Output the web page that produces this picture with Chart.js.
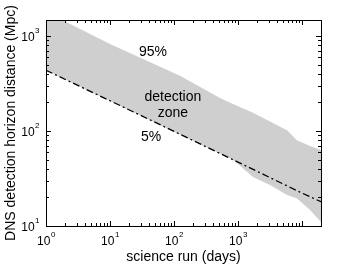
<!DOCTYPE html>
<html>
<head>
<meta charset="utf-8">
<script src="https://cdn.jsdelivr.net/npm/chart.js@4"></script>
<style>
html, body { margin: 0; padding: 0; background: #fff; }
#wrap { width: 355px; height: 267px; }
</style>
</head>
<body>
<div id="wrap"><canvas id="chartCanvas" width="355" height="267"></canvas></div>
<script>
// science run length (days) and the 5%..95% band of horizon distance (Mpc)
const bandDays = [1, 2, 10, 124, 523, 835, 1715, 3160, 5830, 8350, 13335, 19800];
const band95 = [1790, 1416, 824, 380, 222, 192, 155, 126, 102, 80, 69.5, 63];
const band5 = [435, 348, 207, 92, 58, 49.8, 32.8, 27, 21.2, 19.5, 14.7, 11];

// 5% reference line
const lineDays = [1, 10, 100, 1000, 10000, 19800];
const line5 = [435, 208, 99, 47, 22.2, 18];

const xTicks = [1, 10, 100, 1000];
const yTicks = [10, 100, 1000];

const labelTexts = [
  { text: '95%', x: 47, y: 676 },
  { text: 'detection', x: 96, y: 225 },
  { text: 'zone', x: 96, y: 155 },
  { text: '5%', x: 44, y: 86.5 }
];

const fontFam = '"Liberation Sans", Arial, Helvetica, sans-serif';

const toPts = (xs, ys) => xs.map((x, i) => ({ x: x, y: ys[i] }));

// inward tick marks on all four sides, frame, labels
const tickPlugin = {
  id: 'logTicks',
  afterDraw(chart) {
    const ctx = chart.ctx;
    const a = chart.chartArea;
    const sx = chart.scales.x, sy = chart.scales.y;
    ctx.save();
    ctx.strokeStyle = '#000';
    ctx.lineWidth = 1;
    const drawSide = (scale, horiz) => {
      for (let k = Math.floor(Math.log10(scale.min)); k <= Math.ceil(Math.log10(scale.max)); k++) {
        for (let m = 1; m <= 9; m++) {
          const v = m * Math.pow(10, k);
          if (v < scale.min || v > scale.max) continue;
          const p = Math.round(scale.getPixelForValue(v)) + 0.5;
          const len = m === 1 ? 5 : 3;
          ctx.beginPath();
          if (horiz) {
            ctx.moveTo(p, a.bottom); ctx.lineTo(p, a.bottom - len);
            ctx.moveTo(p, a.top); ctx.lineTo(p, a.top + len);
          } else {
            ctx.moveTo(a.left, p); ctx.lineTo(a.left + len, p);
            ctx.moveTo(a.right, p); ctx.lineTo(a.right - len, p);
          }
          ctx.stroke();
        }
      }
    };
    drawSide(sx, true);
    drawSide(sy, false);
    ctx.strokeRect(Math.round(a.left) + 0.5, Math.round(a.top) + 0.5,
      Math.round(a.right - a.left), Math.round(a.bottom - a.top));

    // text in the plot
    ctx.fillStyle = '#000';
    ctx.font = '14px ' + fontFam;
    ctx.textAlign = 'center';
    ctx.textBaseline = 'middle';
    labelTexts.forEach(l => {
      ctx.fillText(l.text, sx.getPixelForValue(l.x), sy.getPixelForValue(l.y));
    });

    // tick labels 10^n
    const drawPow = (cx, cy, exp, align) => {
      ctx.font = '12px ' + fontFam;
      const w10 = ctx.measureText('10').width;
      ctx.font = '8px ' + fontFam;
      const we = ctx.measureText(String(exp)).width;
      let left = align === 'center' ? cx - (w10 + we) / 2 : cx - (w10 + we);
      ctx.textAlign = 'left';
      ctx.textBaseline = 'middle';
      ctx.font = '12px ' + fontFam;
      ctx.fillText('10', left, cy);
      ctx.font = '8px ' + fontFam;
      ctx.fillText(String(exp), left + w10 + 0.5, cy - 7);
    };
    xTicks.forEach(v => drawPow(sx.getPixelForValue(v), a.bottom + 16, Math.round(Math.log10(v)), 'center'));
    yTicks.forEach(v => drawPow(a.left - 7, sy.getPixelForValue(v) + 2, Math.round(Math.log10(v)), 'right'));
    ctx.restore();
  }
};

const ctx = document.getElementById('chartCanvas').getContext('2d');
const chart = new Chart(ctx, {
  type: 'line',
  data: {
    datasets: [
      {
        label: '95%',
        data: toPts(bandDays, band95),
        borderWidth: 0,
        pointRadius: 0,
        backgroundColor: '#cfcfcf',
        fill: '+1',
        order: 2
      },
      {
        label: '5% band',
        data: toPts(bandDays, band5),
        borderWidth: 0,
        pointRadius: 0,
        fill: false,
        order: 2
      },
      {
        label: '5%',
        data: toPts(lineDays, line5),
        borderColor: '#000',
        borderWidth: 1.3,
        borderDash: [7, 3, 2, 3],
        pointRadius: 0,
        fill: false,
        order: 0
      }
    ]
  },
  options: {
    responsive: false,
    animation: false,
    layout: { padding: { top: 20, right: 34, left: 0, bottom: 0 } },
    plugins: { legend: { display: false }, tooltip: { enabled: false } },
    scales: {
      x: {
        type: 'logarithmic',
        min: 1,
        max: 19800,
        grid: { display: false },
        border: { display: false },
        ticks: { display: false },
        afterFit(scale) { scale.height = 41; },
        title: {
          display: true,
          text: 'science run (days)',
          color: '#000',
          font: { family: fontFam, size: 14 },
          padding: { top: 0, bottom: 1 }
        }
      },
      y: {
        type: 'logarithmic',
        min: 10,
        max: 1470,
        grid: { display: false },
        border: { display: false },
        ticks: { display: false },
        afterFit(scale) { scale.width = 46; },
        title: {
          display: true,
          text: 'DNS detection horizon distance (Mpc)',
          color: '#000',
          font: { family: fontFam, size: 14 },
          padding: { top: 3, bottom: 0 }
        }
      }
    }
  },
  plugins: [tickPlugin]
});
</script>
</body>
</html>
